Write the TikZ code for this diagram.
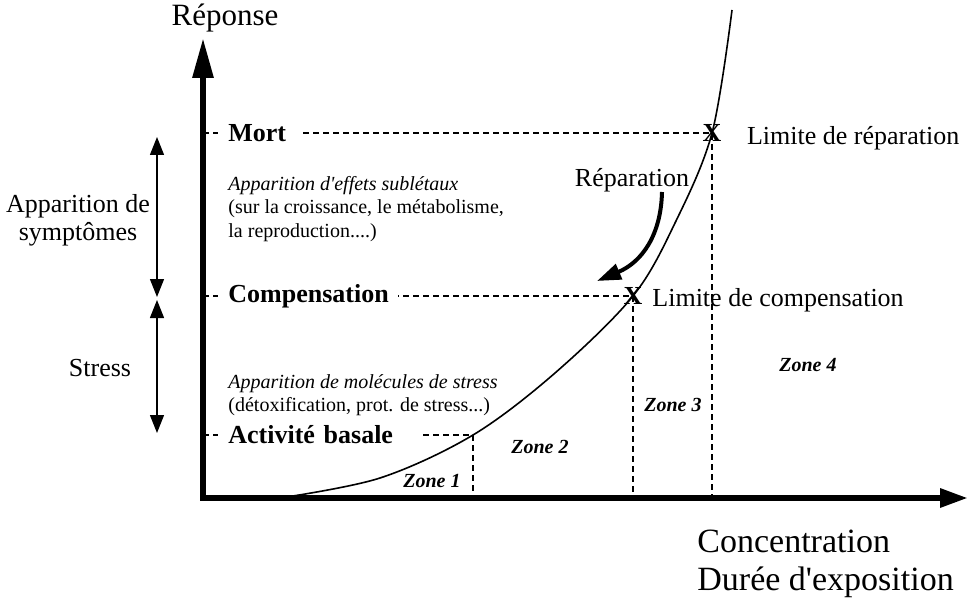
\documentclass[tikz,border=0pt]{standalone}
\usepackage{fontspec}
\setmainfont{Liberation Serif}
\usepackage{tikz}
\usetikzlibrary{positioning, arrows.meta, calc}

\tikzset{
  guide/.style={dash pattern=on 3pt off 2pt, line width=0.6pt},
  levelbox/.style={fill=white, anchor=west, align=left, inner xsep=5pt, inner ysep=2pt, font=\bfseries\fontsize{13}{15}\selectfont},
  note/.style={anchor=west, align=left, inner sep=0pt, font=\fontsize{10}{11.75}\selectfont},
  zonelabel/.style={font=\bfseries\itshape\fontsize{10}{12}\selectfont},
  limitmark/.style={inner sep=0pt, font=\bfseries\fontsize{13}{14}\selectfont},
  plaintext/.style={font=\fontsize{13}{14}\selectfont},
  rangearrow/.style={line width=0.6pt, {Triangle[length=9pt,width=7pt]}-{Triangle[length=9pt,width=7pt]}},
}

\begin{document}
\begin{tikzpicture}[x=0.5pt, y=-0.5pt]
\useasboundingbox (0,0) rectangle (973,604);

% key points
\coordinate (origin) at (203,498);
\coordinate (ytop) at (203,38);
\coordinate (xend) at (968,498);
\coordinate (basal) at (473,435);
\coordinate (comp) at (633,296);
\coordinate (mort) at (712,133);

% dashed projections
\draw[guide] (origin |- mort) -- (mort) -- (mort |- origin);
\draw[guide] (origin |- comp) -- (comp) -- (comp |- origin);
\draw[guide] (origin |- basal) -- (basal) -- (basal |- origin);

% level labels
\node[levelbox, text width=31pt] (mortlbl) at (218,133) {Mort};
\node[levelbox, text width=80pt] (complbl) at (218,296) {Compensation};
\node[levelbox, text width=92pt] (basallbl) at (218,435) {Activité basale};

% axes
\draw[line width=3pt, line join=miter, {Triangle[length=20pt,width=10pt]}-{Triangle[length=14pt,width=9pt]}] (ytop) -- (origin) -- (xend);
\node[font=\fontsize{15.5}{17}\selectfont] (yname) at (225,18) {Réponse};
\node[anchor=west, align=left, inner sep=0pt, font=\fontsize{17}{19}\selectfont] (xname) at (697,564) {Concentration\\Durée d\textquotesingle exposition};

% response curve
\draw[line width=0.8pt] plot[smooth, tension=0.55] coordinates {(280,498) (380,478) (basal) (555,373) (comp) (675,223) (mort) (732,10)};

% limits
\node[limitmark] (xmort) at (mort) {X};
\node[limitmark] (xcomp) at (comp) {X};
\node[plaintext, anchor=west] (limrep) at (740,138) {Limite de réparation};
\node[plaintext, anchor=west, inner xsep=0pt] (limcomp) at (652,300) {Limite de compensation};

% repair arrow
\node[plaintext] (reptext) at (632,180) {Réparation};
\coordinate (repstart) at (662,192);
\coordinate (reptip) at (597,281);
\draw[line width=2pt, -{Triangle[length=12pt,width=8pt]}] (repstart) .. controls (661,235) and (642,262) .. (reptip);

% notes
\node[note] (sublethal) at (228,209) {\textit{Apparition d\textquotesingle effets sublétaux}\\(sur la croissance, le métabolisme,\\la reproduction....)};
\node[note] (stressmol) at (228,395) {\textit{Apparition de molécules de stress}\\(détoxification, prot. de stress...)};

% ranges on the left
\coordinate (symtop) at (157,137);
\coordinate (symbot) at (157,297);
\coordinate (strtop) at (157,300);
\coordinate (strbot) at (157,433);
\draw[rangearrow] (symtop) -- (symbot);
\draw[rangearrow] (strtop) -- (strbot);
\node[plaintext, align=center] (symlbl) at (78,220) {Apparition de\\symptômes};
\node[plaintext] (strlbl) at (100,368) {Stress};

% zones
\node[zonelabel] (zone1) at (432,481) {Zone 1};
\node[zonelabel] (zone2) at (540,447) {Zone 2};
\node[zonelabel] (zone3) at (673,405) {Zone 3};
\node[zonelabel] (zone4) at (808,365) {Zone 4};
\end{tikzpicture}
\end{document}
